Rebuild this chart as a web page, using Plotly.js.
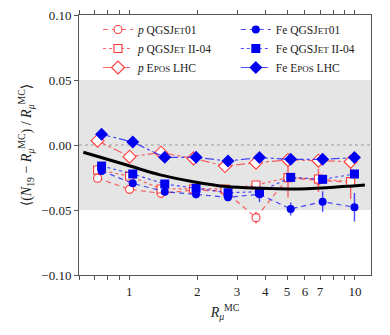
<!DOCTYPE html>
<html>
<head>
<meta charset="utf-8">
<script src="https://cdn.plot.ly/plotly-3.0.1.min.js"></script>
<style>html,body{margin:0;padding:0;background:#fff;}#chart{width:390px;height:335px;}</style>
</head>
<body>
<div id="chart"></div>
<script>
// ---- data ----
const xP  = [0.723, 1.002, 1.382, 1.925, 2.655, 3.642, 5.049, 6.89, 9.57];
const xFe = [0.753, 1.035, 1.435, 1.975, 2.737, 3.775, 5.19, 7.19, 9.95];

const pQGS01   = [-0.0256, -0.0341, -0.0372, -0.0346, -0.0355, -0.0559, -0.0252, -0.0272, -0.0285];
const pQGS01e  = [0.002, 0.002, 0.002, 0.002, 0.003, 0.0045, 0.015, 0.009, 0.013];
const pQGSII   = [-0.0192, -0.0238, -0.0338, -0.0338, -0.0338, -0.0308, -0.0251, -0.0262, -0.0282];
const pEPOS    = [0.0033, -0.0090, -0.0059, -0.0103, -0.0162, -0.0136, -0.0115, -0.0121, -0.0128];

const feQGS01  = [-0.0200, -0.0295, -0.0359, -0.0379, -0.0402, -0.0379, -0.0492, -0.0436, -0.0479];
const feQGS01e = [0.002, 0.002, 0.002, 0.003, 0.003, 0.006, 0.005, 0.008, 0.011];
const feQGSII  = [-0.0162, -0.0223, -0.0300, -0.0333, -0.0367, -0.0359, -0.0249, -0.0264, -0.0223];
const feEPOS   = [0.0082, 0.0023, -0.0095, -0.0095, -0.0123, -0.0097, -0.0110, -0.0110, -0.0097];

const fitX = [0.625, 0.974, 1.368, 1.921, 2.70, 3.80, 5.31, 7.49, 11.07];
const fitY = [-0.0056, -0.0154, -0.0230, -0.0282, -0.0320, -0.0333, -0.0338, -0.0328, -0.0308];

const names = {
  pQGS01: '<i>p</i> QGSJ<span style="font-size:9px">ET</span>01',
  pQGSII: '<i>p</i> QGSJ<span style="font-size:9px">ET</span> II-04',
  pEPOS:  '<i>p</i> E<span style="font-size:9px">POS</span> LHC',
  feQGS01:'Fe QGSJ<span style="font-size:9px">ET</span>01',
  feQGSII:'Fe QGSJ<span style="font-size:9px">ET</span> II-04',
  feEPOS: 'Fe E<span style="font-size:9px">POS</span> LHC'
};
const xTickVals = [0.6, 0.7, 0.8, 0.9, 1, 2, 3, 4, 5, 6, 7, 8, 9, 10];
const xTickText = ['', '', '', '', '1', '2', '3', '4', '5', '6', '7', '', '', '10'];
const yTickVals = [-0.10, -0.05, 0.00, 0.05, 0.10];
const yTickText = ['\u22120.10', '\u22120.05', '0.00', '0.05', '0.10'];

// ---- styles ----
const RED_L = 'rgba(255,50,50,0.75)', RED_M = '#ff3a3a';
const BLU_L = 'rgba(0,0,255,0.7)', BLU_M = '#0000f0';

function tr(x, y, name, lc, mc, dash, sym, size, filled, leg, err) {
  const t = {
    x: x, y: y, name: name, type: 'scatter', mode: 'lines+markers',
    legend: leg,
    line: {color: lc, dash: dash, width: 1.2},
    marker: {symbol: sym, size: size, color: filled ? mc : '#ffffff', line: {color: mc, width: filled ? 0 : 1.1}}
  };
  if (err) t.error_y = {type: 'data', array: err, visible: true, color: lc, thickness: 1.4, width: 0};
  return t;
}

const data = [
  tr(xP, pQGS01, names.pQGS01, RED_L, RED_M, '5px,4px', 'circle', 8, false, 'legend', pQGS01e),
  tr(xP, pQGSII, names.pQGSII, RED_L, RED_M, 'dot', 'square', 8, false, 'legend'),
  tr(xP, pEPOS,  names.pEPOS,  RED_L, RED_M, 'dashdot', 'diamond', 10, false, 'legend'),
  tr(xFe, feQGS01, names.feQGS01, BLU_L, BLU_M, '5px,4px', 'circle', 8, true, 'legend2', feQGS01e),
  tr(xFe, feQGSII, names.feQGSII, BLU_L, BLU_M, 'dot', 'square', 9, true, 'legend2'),
  tr(xFe, feEPOS,  names.feEPOS,  BLU_L, BLU_M, 'dashdot', 'diamond', 10, true, 'legend2'),
  {x: fitX, y: fitY, type: 'scatter', mode: 'lines', showlegend: false,
   line: {color: '#000', width: 3, shape: 'spline'}, hoverinfo: 'skip'}
];

const FONT = 'Liberation Serif, DejaVu Serif, serif';
const legBase = {
  orientation: 'v', yanchor: 'top', xanchor: 'left', y: 1.0,
  bgcolor: 'rgba(0,0,0,0)', borderwidth: 0, traceorder: 'normal',
  font: {family: FONT, size: 11.5, color: '#222'}, itemwidth: 30
};
const layout = {
  width: 390, height: 335,
  margin: {l: 79, r: 19, t: 15, b: 60},
  paper_bgcolor: '#fff', plot_bgcolor: '#fff',
  font: {family: FONT, size: 13, color: '#222'},
  showlegend: true,
  legend: Object.assign({}, legBase, {x: 0.065}),
  legend2: Object.assign({}, legBase, {x: 0.537}),
  xaxis: {
    type: 'log', range: [Math.log10(0.598), Math.log10(11.78)],
    tickmode: 'array', tickvals: xTickVals, ticktext: xTickText,
    ticks: 'outside', ticklen: 4, tickcolor: '#555', tickwidth: 1,
    showline: true, linecolor: '#555', linewidth: 1, mirror: 'ticks',
    showgrid: false, zeroline: false,
    tickfont: {family: FONT, size: 13, color: '#222'},
    title: {text: '<i>R</i><sub><i>\u03bc</i></sub><sup>MC</sup>', font: {family: FONT, size: 14, color: '#222'}, standoff: 9}
  },
  yaxis: {
    range: [-0.10, 0.10],
    tickmode: 'array', tickvals: yTickVals, ticktext: yTickText,
    ticks: 'outside', ticklen: 4, tickcolor: '#555', tickwidth: 1,
    showline: true, linecolor: '#555', linewidth: 1, mirror: true,
    showgrid: false, zeroline: false,
    tickfont: {family: FONT, size: 13, color: '#222'},
    title: {text: '\u27e8(<i>N</i><sub>19</sub> \u2212 <i>R</i><sub><i>\u03bc</i></sub><sup>MC</sup>) / <i>R</i><sub><i>\u03bc</i></sub><sup>MC</sup>\u27e9',
            font: {family: FONT, size: 14, color: '#222'}, standoff: 6}
  },
  shapes: [
    {type: 'rect', xref: 'paper', yref: 'y', x0: 0, x1: 1, y0: -0.05, y1: 0.05,
     fillcolor: '#e5e5e5', line: {width: 0}, layer: 'below'},
    {type: 'line', xref: 'paper', yref: 'y', x0: 0, x1: 1, y0: 0, y1: 0,
     line: {color: '#999', width: 1, dash: 'dot'}, layer: 'below'}
  ]
};

Plotly.newPlot('chart', data, layout, {displayModeBar: false, staticPlot: true});
</script>
</body>
</html>
